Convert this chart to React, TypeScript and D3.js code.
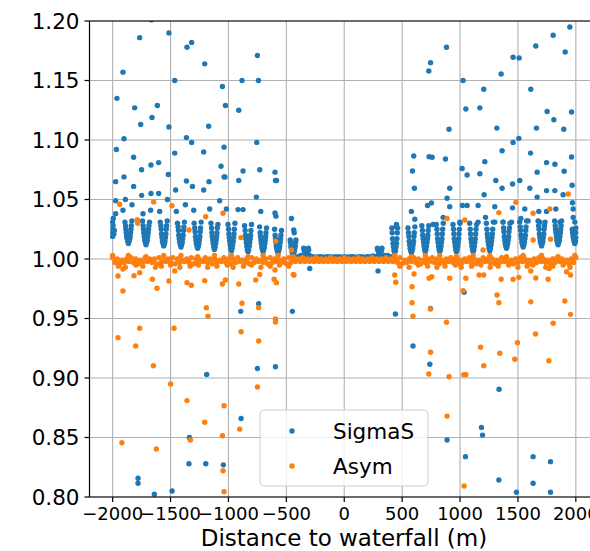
import React from "react";
import * as d3 from "d3";

type P = [number, number];

const xTicks = [-2000, -1500, -1000, -500, 0, 500, 1000, 1500, 2000];
const yTicks = [0.8, 0.85, 0.9, 0.95, 1.0, 1.05, 1.1, 1.15, 1.2];
const seriesNames = ["SigmaS", "Asym"];
const xLabel = "Distance to waterfall (m)";

const sigmaHigh: P[] = [
  [-1666,1.201],[-1767,1.186],[-1514,1.190],[-1358,1.178],[-1318,1.182],[-1205,1.164],[-750,1.171],[-1911,1.157],[-1963,1.135],[-1464,1.150],[-1052,1.145],[-883,1.150],[-741,1.150],[-1810,1.127],[-1614,1.129],[-1660,1.119],[-1758,1.113],[-1514,1.111],[-1026,1.129],[-911,1.125],[-1171,1.1115],[-1902,1.101],[-1968,1.092],[-1363,1.102],[-1318,1.098],[-1038,1.094],[-756,1.098],[-1464,1.089],[-1214,1.090],[-1819,1.0855],[-1750,1.075],[-1669,1.079],[-1603,1.081],[-1064,1.078],[-1519,1.071],[-1974,1.065],[-1902,1.069],[-1819,1.061],[-1363,1.0655],[-1311,1.061],[-1214,1.058],[-1168,1.065],[-1038,1.069],[-1030,1.069],[-911,1.066],[-874,1.074],[-730,1.075],[-759,1.052],[-598,1.073],[-594,1.066],[-585,1.066],[-1456,1.058],[-1750,1.0535],[-1669,1.055],[-1603,1.055],[-1527,1.050],[-1974,1.049],[-1890,1.050],[-1833,1.0456],[-1076,1.049],[-1974,1.038],[-1911,1.041],[-1738,1.038],[-1672,1.041],[-1594,1.040],[-1450,1.040],[-1372,1.0456],[-1300,1.041],[-1162,1.042],[-1018,1.042],[-917,1.0415],[-874,1.0415],[-721,1.040],[-598,1.0387],[-590,1.036],[-456,1.034],[-436,1.0244],[-432,1.022],[-307,1.0076],
  [1948,1.195],[1804,1.188],[1654,1.179],[1908,1.174],[1458,1.1695],[1510,1.169],[883,1.178],[745,1.165],[730,1.158],[1355,1.1555],[1026,1.150],[1205,1.1426],[1611,1.1426],[1050,1.126],[1171,1.127],[1752,1.124],[1963,1.1235],[1810,1.117],[905,1.109],[1318,1.110],[1660,1.110],[1896,1.109],[1508,1.1014],[1458,1.098],[600,1.0866],[733,1.086],[759,1.0855],[874,1.084],[1363,1.091],[1609,1.089],[1963,1.0857],[1747,1.081],[1819,1.0796],[1214,1.0818],[1018,1.076],[589,1.074],[1061,1.0706],[1171,1.0717],[1666,1.073],[1899,1.0737],[1309,1.066],[1516,1.066],[606,1.0594],[911,1.0594],[1363,1.0594],[1453,1.063],[1603,1.0594],[1968,1.062],[1666,1.052],[1747,1.0575],[1819,1.0575],[1890,1.054],[1208,1.054],[888,1.051],[1971,1.0473],[753,1.047],[719,1.045],[580,1.040],[609,1.0334],[451,1.029],[447,1.027],[911,1.044],[1021,1.045],[1061,1.045],[1156,1.045],[1300,1.044],[1453,1.043],[1559,1.042],[1680,1.040],[1747,1.040],[1827,1.042],[1977,1.042],[1525,1.034],[1588,1.032],[998,1.031],[1156,1.031],[1220,1.035],[1300,1.031],[1372,1.031],[1445,1.031],[1689,1.031],[1862,1.031],[1977,1.035],[1991,1.031],[767,1.029],[854,1.035],
];

const sigmaShoulders: P[] = [
  [-1894,1.031],[-1834,1.032],[-1742,1.032],[-1682,1.031],[-1589,1.031],[-1529,1.032],[-1440,1.030],[-1380,1.031],[-1296,1.030],[-1236,1.031],[-1151,1.030],[-1091,1.029],[-1004,1.029],[-944,1.030],[-861,1.028],[-801,1.029],[-731,1.027],[-671,1.026],[-602,1.025],[-542,1.024],
  [550,1.026],[610,1.027],[670,1.028],[730,1.028],[795,1.029],[855,1.030],[939,1.029],[999,1.030],[1083,1.030],[1143,1.029],[1227,1.030],[1287,1.031],[1371,1.031],[1431,1.030],[1515,1.031],[1575,1.032],[1674,1.032],[1734,1.031],[1817,1.032],[1877,1.032],
];

const sigmaClusters: P[] = [
  [-2000,1.019],[-1999,1.022],[-1998,1.025],[-1997,1.028],[-2000,1.031],[-1995,1.034],[-1990,1.021],[-1985,1.024],
  [-1864,1.013],[-1870,1.015],[-1858,1.015],[-1875,1.017],[-1853,1.017],[-1879,1.019],[-1849,1.019],[-1883,1.022],[-1845,1.022],[-1886,1.025],[-1842,1.025],[-1889,1.028],[-1839,1.028],
  [-1712,1.012],[-1718,1.014],[-1706,1.014],[-1723,1.016],[-1701,1.016],[-1727,1.019],[-1697,1.019],[-1731,1.022],[-1693,1.022],[-1734,1.025],[-1690,1.025],[-1737,1.028],[-1687,1.028],
  [-1559,1.011],[-1565,1.013],[-1553,1.013],[-1570,1.015],[-1548,1.015],[-1574,1.018],[-1544,1.018],[-1578,1.021],[-1540,1.021],[-1581,1.025],[-1537,1.025],[-1584,1.028],[-1534,1.028],
  [-1410,1.010],[-1416,1.012],[-1404,1.012],[-1421,1.014],[-1399,1.014],[-1425,1.017],[-1395,1.017],[-1429,1.020],[-1391,1.020],[-1432,1.024],[-1388,1.024],[-1435,1.027],[-1385,1.027],
  [-1266,1.009],[-1272,1.011],[-1260,1.011],[-1277,1.013],[-1255,1.013],[-1281,1.016],[-1251,1.016],[-1285,1.019],[-1247,1.019],[-1288,1.023],[-1244,1.023],[-1291,1.026],[-1241,1.026],
  [-1121,1.008],[-1127,1.010],[-1115,1.010],[-1132,1.013],[-1110,1.013],[-1136,1.016],[-1106,1.016],[-1140,1.019],[-1102,1.019],[-1143,1.022],[-1099,1.022],[-1146,1.026],[-1096,1.026],
  [-974,1.007],[-980,1.009],[-968,1.009],[-985,1.012],[-963,1.012],[-989,1.015],[-959,1.015],[-993,1.018],[-955,1.018],[-996,1.021],[-952,1.021],[-999,1.025],[-949,1.025],
  [-831,1.006],[-837,1.008],[-825,1.008],[-842,1.011],[-820,1.011],[-846,1.014],[-816,1.014],[-850,1.017],[-812,1.017],[-853,1.020],[-809,1.020],[-856,1.024],[-806,1.024],
  [-701,1.006],[-707,1.008],[-695,1.008],[-712,1.010],[-690,1.010],[-716,1.013],[-686,1.013],[-720,1.016],[-682,1.016],[-723,1.019],[-679,1.019],[-726,1.022],[-676,1.022],
  [-572,1.005],[-578,1.007],[-566,1.007],[-583,1.009],[-561,1.009],[-587,1.011],[-557,1.011],[-591,1.014],[-553,1.014],[-594,1.017],[-550,1.017],[-597,1.020],[-547,1.020],
  [-442,1.004],[-448,1.005],[-436,1.005],[-453,1.007],[-431,1.007],[-457,1.009],[-427,1.009],[-461,1.011],[-423,1.011],[-464,1.014],[-420,1.014],[-467,1.016],[-417,1.016],
  [-330,1.003],[-338,1.005],[-322,1.005],[-345,1.007],[-315,1.007],[-350,1.009],[-310,1.009],
  [306,1.003],[298,1.005],[314,1.005],[291,1.007],[321,1.007],[286,1.009],[326,1.009],
  [436,1.004],[430,1.007],[442,1.007],[425,1.010],[447,1.010],[421,1.013],[451,1.013],[417,1.017],[455,1.017],[414,1.022],[458,1.022],[411,1.026],[461,1.026],
  [580,1.005],[574,1.007],[586,1.007],[569,1.009],[591,1.009],[565,1.012],[595,1.012],[561,1.015],[599,1.015],[558,1.019],[602,1.019],[555,1.022],[605,1.022],
  [700,1.006],[694,1.008],[706,1.008],[689,1.011],[711,1.011],[685,1.014],[715,1.014],[681,1.017],[719,1.017],[678,1.020],[722,1.020],[675,1.024],[725,1.024],
  [825,1.006],[819,1.008],[831,1.008],[814,1.011],[836,1.011],[810,1.014],[840,1.014],[806,1.017],[844,1.017],[803,1.021],[847,1.021],[800,1.025],[850,1.025],
  [969,1.006],[963,1.008],[975,1.008],[958,1.011],[980,1.011],[954,1.014],[984,1.014],[950,1.017],[988,1.017],[947,1.021],[991,1.021],[944,1.025],[994,1.025],
  [1113,1.006],[1107,1.008],[1119,1.008],[1102,1.011],[1124,1.011],[1098,1.014],[1128,1.014],[1094,1.017],[1132,1.017],[1091,1.021],[1135,1.021],[1088,1.025],[1138,1.025],
  [1257,1.007],[1251,1.009],[1263,1.009],[1246,1.012],[1268,1.012],[1242,1.015],[1272,1.015],[1238,1.018],[1276,1.018],[1235,1.021],[1279,1.021],[1232,1.025],[1282,1.025],
  [1401,1.009],[1395,1.011],[1407,1.011],[1390,1.013],[1412,1.013],[1386,1.016],[1416,1.016],[1382,1.019],[1420,1.019],[1379,1.023],[1423,1.023],[1376,1.026],[1426,1.026],
  [1545,1.010],[1539,1.012],[1551,1.012],[1534,1.014],[1556,1.014],[1530,1.017],[1560,1.017],[1526,1.020],[1564,1.020],[1523,1.024],[1567,1.024],[1520,1.027],[1570,1.027],
  [1704,1.011],[1698,1.013],[1710,1.013],[1693,1.015],[1715,1.015],[1689,1.018],[1719,1.018],[1685,1.021],[1723,1.021],[1682,1.025],[1726,1.025],[1679,1.028],[1729,1.028],
  [1847,1.012],[1841,1.014],[1853,1.014],[1836,1.016],[1858,1.016],[1832,1.019],[1862,1.019],[1828,1.022],[1866,1.022],[1825,1.025],[1869,1.025],[1822,1.028],[1872,1.028],
  [1991,1.013],[1985,1.015],[1997,1.015],[1980,1.017],[2000,1.018],[1976,1.019],[1972,1.022],[1969,1.025],[2000,1.022],[2000,1.026],
];

const sigmaCenter: P[] = [
  [-400,1.002],[-375,1.003],[-350,1.002],[-325,1.002],[-300,1.003],[-275,1.002],[-250,1.0015],[-225,1.002],[-200,1.002],[-175,1.0015],[-150,1.002],[-125,1.002],[-100,1.0015],[-75,1.002],[-50,1.002],[-25,1.0015],[0,1.002],[25,1.0015],[50,1.002],[75,1.002],[100,1.0015],[125,1.002],[150,1.002],[175,1.0015],[200,1.002],[225,1.002],[250,1.0025],[275,1.002],[300,1.003],[325,1.002],[350,1.003],[375,1.003],[400,1.002],
];

const sigmaLow: P[] = [
  [-298,0.992],[-894,0.956],[-739,0.9625],[-448,0.956],[-750,0.908],[-594,0.9095],[-1188,0.903],[-891,0.866],[-1337,0.850],[-1341,0.828],[-1196,0.828],[-1044,0.827],[-1781,0.8157],[-1781,0.8115],[-1640,0.8023],[-1487,0.805],
  [292,0.990],[442,0.9538],[594,0.9269],[745,0.9585],[739,0.9115],[1035,0.972],[1337,0.8905],[1185,0.8585],[1194,0.852],[888,0.8479],[1047,0.8339],[1631,0.8339],[1781,0.8297],[1335,0.8143],[1631,0.8115],[1487,0.804],[1781,0.804],
];

const asymBand: P[] = [
  [-2000,1.001],[-1960,1.000],[-1920,0.999],[-1880,1.000],[-1840,1.001],[-1800,1.000],[-1760,0.999],[-1720,1.001],[-1680,1.000],[-1640,1.000],[-1600,1.001],[-1560,0.999],[-1520,1.000],[-1480,1.001],[-1440,1.000],[-1400,0.999],[-1360,1.000],[-1320,1.001],[-1280,1.000],[-1240,0.999],[-1200,1.001],[-1160,1.000],[-1120,1.000],[-1080,0.999],[-1040,1.001],[-1000,1.000],[-960,1.000],[-920,1.001],[-880,0.999],[-840,1.000],[-800,1.001],[-760,1.000],[-720,0.999],[-680,1.000],[-640,1.001],[-600,1.000],[-560,0.999],[-520,1.000],[-480,1.001],[-440,1.000],[-400,1.000],[-360,1.001],[-320,1.000],[-280,1.000],[-240,1.001],[-200,1.000],[-160,1.000],[-120,1.001],[-80,1.000],[-40,1.000],[0,1.001],[40,1.000],[80,1.000],[120,1.001],[160,1.000],[200,1.000],[240,1.001],[280,1.000],[320,1.000],[360,1.001],[400,1.000],[440,1.000],[480,1.001],[520,0.999],[560,1.000],[600,1.001],[640,1.000],[680,0.999],[720,1.000],[760,1.001],[800,1.000],[840,0.999],[880,1.000],[920,1.001],[960,1.000],[1000,0.999],[1040,1.000],[1080,1.001],[1120,1.000],[1160,0.999],[1200,1.001],[1240,1.000],[1280,1.000],[1320,0.999],[1360,1.001],[1400,1.000],[1440,0.999],[1480,1.000],[1520,1.001],[1560,1.000],[1600,0.999],[1640,1.000],[1680,1.001],[1720,1.000],[1760,0.999],[1800,1.000],[1840,1.001],[1880,1.000],[1920,0.999],[1960,1.000],[2000,1.001],
];

const asymBandLow: P[] = [
  [-1980,0.997],[-1940,0.996],[-1900,0.997],[-1860,0.998],[-1820,0.997],[-1780,0.996],[-1740,0.997],[-1700,0.998],[-1660,0.997],[-1620,0.996],[-1580,0.997],[-1540,0.998],[-1500,0.997],[-1460,0.996],[-1420,0.997],[-1380,0.998],[-1340,0.997],[-1300,0.996],[-1260,0.997],[-1220,0.998],[-1180,0.997],[-1140,0.996],[-1100,0.997],[-1060,0.998],[-1020,0.997],[-980,0.996],[-940,0.997],[-900,0.998],[-860,0.997],[-820,0.996],[-780,0.997],[-740,0.998],[-700,0.997],[-660,0.996],[-620,0.997],[-580,0.998],[-540,0.997],[-500,0.996],[-460,0.997],[-420,0.998],[-380,0.998],[-340,0.998],[-300,0.998],[-260,0.998],[-220,0.998],[-180,0.998],[-140,0.998],[-100,0.998],[-60,0.998],[-20,0.998],[20,0.998],[60,0.998],[100,0.998],[140,0.998],[180,0.998],[220,0.998],[260,0.998],[300,0.998],[340,0.998],[380,0.998],[420,0.998],[460,0.997],[500,0.996],[540,0.997],[580,0.998],[620,0.997],[660,0.996],[700,0.997],[740,0.998],[780,0.997],[820,0.996],[860,0.997],[900,0.998],[940,0.997],[980,0.996],[1020,0.997],[1060,0.998],[1100,0.997],[1140,0.996],[1180,0.997],[1220,0.998],[1260,0.997],[1300,0.996],[1340,0.997],[1380,0.998],[1420,0.997],[1460,0.996],[1500,0.997],[1540,0.998],[1580,0.997],[1620,0.996],[1660,0.997],[1700,0.998],[1740,0.997],[1780,0.996],[1820,0.997],[1860,0.998],[1900,0.997],[1940,0.996],[1980,0.997],
];

const asymBumps: P[] = [
  [-2000,1.003],[-1864,1.003],[-1712,1.002],[-1559,1.003],[-1410,1.003],[-1266,1.002],[-1121,1.003],[-974,1.003],[-831,1.002],[-701,1.003],[-572,1.003],[-442,1.002],[436,1.003],[580,1.002],[700,1.003],[825,1.003],[969,1.002],[1113,1.003],[1257,1.003],[1401,1.002],[1545,1.003],[1704,1.003],[1847,1.002],[1991,1.003],
];

const asymNearBand: P[] = [
  [-1950,0.994],[-1890,0.993],[-1800,0.995],[-1740,0.994],[-1630,0.993],[-1580,0.994],[-1500,0.995],[-1420,0.993],[-1330,0.994],[-1260,0.995],[-1180,0.993],[-1100,0.994],[-1010,0.995],[-960,0.993],[-870,0.994],[-800,0.995],[-720,0.993],[-640,0.994],[-560,0.995],[-480,0.994],
  [480,0.994],[560,0.993],[640,0.995],[720,0.994],[800,0.993],[870,0.994],[960,0.995],[1010,0.993],[1100,0.994],[1180,0.995],[1260,0.993],[1330,0.994],[1420,0.995],[1500,0.993],[1580,0.994],[1630,0.995],[1740,0.993],[1800,0.994],[1890,0.995],[1950,0.993],
];

const asymLow: P[] = [
  [-1954,0.9857],[-1911,0.9916],[-1911,0.9731],[-1816,0.986],[-1767,0.9885],[-1657,0.983],[-1617,0.9754],[-1514,0.9815],[-1464,0.990],[-1358,0.980],[-1320,0.978],[-1205,0.9818],[-1052,0.979],[-1026,0.9824],[-911,0.979],[-764,0.9824],[-730,0.987],[-606,0.983],[-586,0.980],[-598,0.9908],[-434,0.9866],[-440,0.987],[-883,0.9628],[-1191,0.959],[-1177,0.952],[-739,0.959],[-594,0.9496],[-594,0.947],[-1954,0.9339],[-1801,0.9269],[-1767,0.9418],[-1470,0.9418],[-891,0.9389],[-739,0.9311],[-1648,0.9103],[-1499,0.895],[-750,0.8924],[-1358,0.881],[-1038,0.8767],[-1205,0.8628],[-903,0.857],[-1052,0.8515],[-1329,0.848],[-1920,0.8456],[-1623,0.8403],[-1047,0.822],[-1038,0.8044],
  [436,0.9866],[445,0.9804],[603,0.9874],[586,0.9767],[586,0.9633],[594,0.952],[733,0.9838],[756,0.9851],[911,0.9838],[1050,0.9838],[1026,0.9734],[1165,0.9866],[1205,0.9866],[1355,0.983],[1458,0.983],[1508,0.9846],[1611,0.990],[1654,0.984],[1761,0.983],[1770,0.992],[1920,0.9893],[1954,0.9866],[1320,0.9698],[1335,0.9633],[1611,0.964],[1905,0.9647],[1954,0.9535],[745,0.958],[883,0.9468],[1804,0.946],[1652,0.937],[1496,0.9297],[1177,0.9258],[1343,0.9208],[745,0.9216],[1473,0.9157],[1767,0.9145],[1205,0.9103],[730,0.9034],[905,0.9011],[1032,0.9028],[1050,0.9028],[888,0.868],[1035,0.8092],
];

const asymHigh: P[] = [
  [-1940,1.046],[-1646,1.048],[-1488,1.0448],[-1787,1.033],[-1784,1.030],[-1197,1.0355],[-1047,1.0384],[-1341,1.0244],[-892,1.018],[-594,1.015],[-456,1.0076],
  [1934,1.0546],[1482,1.0476],[1775,1.042],[1631,1.0384],[1335,1.039],[888,1.034],[1041,1.0328],[1631,1.016],[1781,1.0166],[1199,1.0076],
];

const sigmaS: P[] = [...sigmaCenter, ...sigmaClusters, ...sigmaShoulders, ...sigmaHigh, ...sigmaLow];
const asym: P[] = [...asymBandLow, ...asymBand, ...asymBumps, ...asymNearBand, ...asymLow, ...asymHigh];

const W = 590;
const H = 551;
const M = { left: 89.5, top: 21, bottom: 497, right: 599 };
const BLUE = "#1f77b4";
const ORANGE = "#ff7f0e";
const FONT = "DejaVu Sans, sans-serif";

export default function App() {
  const x = d3.scaleLinear().domain([-2200, 2200]).range([M.left, M.right]);
  const y = d3.scaleLinear().domain([0.8, 1.2]).range([M.bottom, M.top]);
  const fy = d3.format(".2f");
  const fx = d3.format("d");
  const r = 2.7;

  return (
    <svg width={W} height={H} style={{ position: "absolute", left: 0, top: 0, background: "#fff" }}>
      <defs>
        <clipPath id="plot">
          <rect x={M.left} y={M.top} width={M.right - M.left} height={M.bottom - M.top} />
        </clipPath>
      </defs>
      <rect x={0} y={0} width={W} height={H} fill="#fff" />
      <g stroke="#b0b0b0" strokeWidth={1.1}>
        {xTicks.map((t) => (
          <line key={"gx" + t} x1={x(t)} x2={x(t)} y1={M.top} y2={M.bottom} />
        ))}
        {yTicks.map((t) => (
          <line key={"gy" + t} x1={M.left} x2={M.right} y1={y(t)} y2={y(t)} />
        ))}
      </g>
      <g clipPath="url(#plot)">
        {sigmaS.map((d, i) => (
          <circle key={"s" + i} cx={x(d[0])} cy={y(d[1])} r={r} fill={BLUE} />
        ))}
        {asym.map((d, i) => (
          <circle key={"a" + i} cx={x(d[0])} cy={y(d[1])} r={r} fill={ORANGE} />
        ))}
      </g>
      <g stroke="#000" strokeWidth={1.2} fill="none">
        <line x1={M.left} x2={M.left} y1={M.top} y2={M.bottom} />
        <line x1={M.left} x2={M.right} y1={M.bottom} y2={M.bottom} />
        <line x1={M.left} x2={M.right} y1={M.top} y2={M.top} />
      </g>
      <g fontFamily={FONT} fontSize={21.5} fill="#000">
        {yTicks.map((t) => (
          <g key={"ty" + t}>
            <line x1={M.left - 5} x2={M.left} y1={y(t)} y2={y(t)} stroke="#000" strokeWidth={1.2} />
            <text x={M.left - 10} y={y(t)} textAnchor="end" dominantBaseline="central">
              {fy(t)}
            </text>
          </g>
        ))}
      </g>
      <g fontFamily={FONT} fontSize={18} fill="#000">
        {xTicks.map((t) => (
          <g key={"tx" + t}>
            <line x1={x(t)} x2={x(t)} y1={M.bottom} y2={M.bottom + 5} stroke="#000" strokeWidth={1.2} />
            <text x={x(t)} y={M.bottom + 23} textAnchor="middle">
              {fx(t)}
            </text>
          </g>
        ))}
      </g>
      <text x={344} y={546} textAnchor="middle" fontFamily={FONT} fontSize={23} fill="#000">
        {xLabel}
      </text>
      <g>
        <rect x={260} y={410} width={168} height={76} rx={4} fill="#fff" fillOpacity={0.8} stroke="#cccccc" strokeWidth={1} />
        {seriesNames.map((n, i) => (
          <g key={n}>
            <circle cx={292} cy={431 + i * 35} r={r} fill={i === 0 ? BLUE : ORANGE} />
            <text x={333} y={431 + i * 35} dominantBaseline="central" fontFamily={FONT} fontSize={21.5} fill="#000">
              {n}
            </text>
          </g>
        ))}
      </g>
    </svg>
  );
}
